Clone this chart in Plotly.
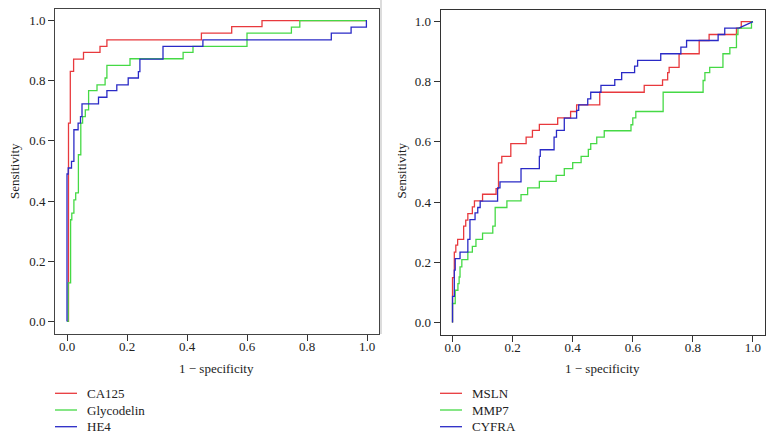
import plotly.graph_objects as go

# ---------------- data (1 - specificity, sensitivity) at each ROC step ----------------
ca125_fpr = [0, 0.005, 0.011, 0.022, 0.055, 0.110, 0.133, 0.448, 0.549, 0.650, 1.0]
ca125_tpr = [0, 0.659, 0.831, 0.872, 0.894, 0.914, 0.936, 0.958, 0.980, 1.000, 1.0]

glyco_fpr = [0, 0.004, 0.012, 0.016, 0.023, 0.029, 0.038, 0.046, 0.052, 0.061, 0.072,
             0.100, 0.127, 0.133, 0.210, 0.387, 0.420, 0.600, 0.748, 0.776, 1.0]
glyco_tpr = [0, 0.128, 0.338, 0.360, 0.404, 0.427, 0.554, 0.659, 0.681, 0.703, 0.767,
             0.786, 0.809, 0.851, 0.873, 0.894, 0.914, 0.958, 0.978, 1.000, 1.0]

he4_fpr = [0, 0, 0.004, 0.015, 0.023, 0.037, 0.045, 0.050, 0.105, 0.133, 0.166,
           0.204, 0.238, 0.243, 0.320, 0.453, 0.881, 0.947, 0.998, 1.0]
he4_tpr = [0, 0.490, 0.510, 0.532, 0.637, 0.659, 0.681, 0.723, 0.745, 0.767, 0.786,
           0.809, 0.830, 0.872, 0.914, 0.936, 0.958, 0.978, 1.000, 1.0]

msln_fpr = [0, 0, 0.006, 0.011, 0.017, 0.037, 0.044, 0.051, 0.066, 0.073, 0.100,
            0.145, 0.153, 0.164, 0.194, 0.245, 0.266, 0.289, 0.350, 0.393, 0.413,
            0.490, 0.638, 0.699, 0.716, 0.721, 0.754, 0.821, 0.854, 0.945, 0.961, 1.0]
msln_tpr = [0, 0.149, 0.234, 0.257, 0.276, 0.320, 0.340, 0.362, 0.384, 0.404, 0.426,
            0.445, 0.530, 0.552, 0.594, 0.616, 0.638, 0.658, 0.680, 0.701, 0.723,
            0.765, 0.788, 0.806, 0.830, 0.848, 0.893, 0.937, 0.957, 0.978, 1.000, 1.0]

mmp7_fpr = [0, 0, 0.009, 0.018, 0.022, 0.025, 0.031, 0.051, 0.066, 0.078, 0.100,
            0.134, 0.142, 0.181, 0.228, 0.250, 0.289, 0.345, 0.372, 0.400, 0.428,
            0.452, 0.460, 0.480, 0.505, 0.594, 0.600, 0.610, 0.701, 0.834, 0.840,
            0.856, 0.900, 0.923, 0.945, 0.950, 0.995, 1.0]
mmp7_tpr = [0, 0.063, 0.107, 0.129, 0.151, 0.185, 0.209, 0.234, 0.253, 0.276, 0.297,
            0.320, 0.382, 0.404, 0.425, 0.447, 0.469, 0.489, 0.511, 0.531, 0.552,
            0.575, 0.594, 0.616, 0.637, 0.657, 0.680, 0.701, 0.765, 0.804, 0.830,
            0.848, 0.893, 0.913, 0.957, 0.978, 1.000, 1.0]

cyfra_fpr = [0, 0, 0.006, 0.009, 0.025, 0.051, 0.058, 0.075, 0.084, 0.092, 0.150,
             0.158, 0.228, 0.289, 0.292, 0.338, 0.346, 0.372, 0.413, 0.420, 0.450,
             0.460, 0.494, 0.540, 0.563, 0.606, 0.616, 0.693, 0.760, 0.779, 0.884,
             0.906, 0.953, 1.0]
cyfra_tpr = [0, 0.087, 0.174, 0.212, 0.234, 0.276, 0.342, 0.364, 0.382, 0.403, 0.447,
             0.467, 0.511, 0.552, 0.574, 0.616, 0.638, 0.679, 0.705, 0.723, 0.743,
             0.765, 0.788, 0.807, 0.830, 0.852, 0.871, 0.893, 0.915, 0.937, 0.957,
             0.978, 0.978, 1.0]

left_names = ["CA125", "Glycodelin", "HE4"]
right_names = ["MSLN", "MMP7", "CYFRA"]
tick_vals = [0, 0.2, 0.4, 0.6, 0.8, 1.0]
tick_text = ["0.0", "0.2", "0.4", "0.6", "0.8", "1.0"]
colors = ["#E8393D", "#45D945", "#2A2AC6"]

FONT = "Liberation Serif"


def staircase(xs, ys, diag_last=False):
    X, Y = [xs[0]], [ys[0]]
    n = len(xs)
    for i in range(1, n):
        if diag_last and i == n - 1:
            X.append(xs[i]); Y.append(ys[i])
        else:
            X += [xs[i], xs[i]]
            Y += [ys[i - 1], ys[i]]
    return X, Y


fig = go.Figure()

left_series = [(ca125_fpr, ca125_tpr), (glyco_fpr, glyco_tpr), (he4_fpr, he4_tpr)]
right_series = [(msln_fpr, msln_tpr), (mmp7_fpr, mmp7_tpr), (cyfra_fpr, cyfra_tpr)]

for (fx, ty), nm, c in zip(left_series, left_names, colors):
    X, Y = staircase(fx, ty)
    fig.add_trace(go.Scatter(x=X, y=Y, mode="lines", name=nm, xaxis="x", yaxis="y",
                             line=dict(color=c, width=1.3), showlegend=False))
for (fx, ty), nm, c in zip(right_series, right_names, colors):
    X, Y = staircase(fx, ty, diag_last=(nm == "CYFRA"))
    fig.add_trace(go.Scatter(x=X, y=Y, mode="lines", name=nm, xaxis="x2", yaxis="y2",
                             line=dict(color=c, width=1.3), showlegend=False))

W, H = 774, 438


def ax(domain, anchor, frame, standoff):
    return dict(domain=domain, anchor=anchor, range=[-0.04, 1.04],
                tickvals=tick_vals, ticktext=tick_text, ticks="outside", ticklen=6,
                tickwidth=1, tickcolor="#333", showline=True, mirror=True,
                linecolor=frame, linewidth=1, showgrid=False, zeroline=False,
                ticklabelstandoff=standoff,
                tickfont=dict(family=FONT, size=13, color="#222"), fixedrange=True)


fig.update_layout(
    width=W, height=H, margin=dict(l=0, r=0, t=0, b=0),
    paper_bgcolor="white", plot_bgcolor="white",
    xaxis=ax([55 / W, 379 / W], "y", "#444", -5),
    yaxis=ax([1 - 333.5 / H, 1 - 8.5 / H], "x", "#444", 0),
    xaxis2=ax([440.5 / W, 765 / W], "y2", "#333", -5),
    yaxis2=ax([1 - 334.5 / H, 1 - 9.5 / H], "x2", "#333", 0),
)

annots = []
shapes = []
# axis titles
for cx, lx in [(217, 14), (602.7, 400.5)]:
    annots.append(dict(text="1 \u2212 specificity", x=cx / W, y=1 - 368 / H, xref="paper",
                       yref="paper", showarrow=False, xanchor="center", yanchor="middle",
                       font=dict(family=FONT, size=13, color="#222")))
    annots.append(dict(text="Sensitivity", x=lx / W, y=1 - 171 / H, xref="paper",
                       yref="paper", showarrow=False, textangle=-90, xanchor="center",
                       yanchor="middle", font=dict(family=FONT, size=13, color="#222")))

# legends
for x0, names in [(55, left_names), (440, right_names)]:
    for k, (nm, c) in enumerate(zip(names, colors)):
        yy = 393.3 + 16.7 * k
        shapes.append(dict(type="line", xref="paper", yref="paper", x0=x0 / W,
                           x1=(x0 + 22) / W, y0=1 - yy / H, y1=1 - yy / H,
                           line=dict(color=c, width=1.3)))
        annots.append(dict(text=nm, x=(x0 + 30) / W, y=1 - yy / H, xref="paper",
                           yref="paper", showarrow=False, xanchor="left",
                           yanchor="middle", font=dict(family=FONT, size=13, color="#222")))

# light separator between the two panels
shapes.append(dict(type="line", xref="paper", yref="paper", x0=381 / W, x1=381 / W,
                   y0=1 - 334 / H, y1=1, line=dict(color="#dcdcdc", width=2)))

fig.update_layout(annotations=annots, shapes=shapes)
fig.write_html("out.html", config={"displayModeBar": False},
               post_script="document.body.style.margin='0';document.body.style.overflow='hidden';")
